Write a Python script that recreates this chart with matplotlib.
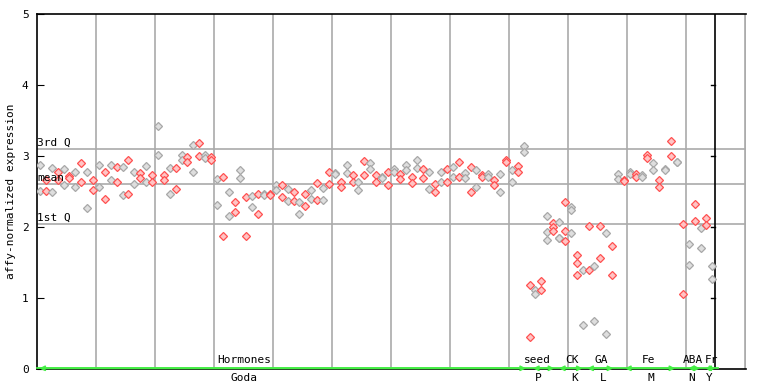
import numpy as np
import matplotlib
matplotlib.use("Agg")
import matplotlib.pyplot as plt

nan = np.nan
# replicate values per sample column
rep_a = [2.87, 2.51, 2.83, 2.77, 2.81, 2.72, 2.77, 2.90, 2.78, 2.66,
         2.88, 2.78, 2.88, 2.84, 2.84, 2.95, 2.78, 2.76, 2.86, 2.73,
         3.42, 2.73, 2.83, 2.83, 3.02, 2.98, 3.16, 3.18, 3.01, 2.98,
         2.67, 2.70, 2.49, 2.35, 2.80, 2.42, 2.43, 2.46, 2.47, 2.46,
         2.59, 2.59, 2.53, 2.49, 2.35, 2.47, 2.52, 2.62, 2.55, 2.77,
         2.76, 2.64, 2.88, 2.73, 2.64, 2.93, 2.90, 2.73, 2.71, 2.77,
         2.81, 2.74, 2.87, 2.71, 2.95, 2.81, 2.77, 2.60, 2.77, 2.81,
         2.84, 2.91, 2.76, 2.85, 2.80, 2.73, 2.74, 2.66, 2.74, 2.94,
         2.80, 2.86, 3.14, 1.19, 1.11, 1.24, 2.16, 2.05, 2.07, 2.35,
         2.28, 1.60, 1.39, 2.01, 1.45, 2.01, 1.91, 1.73, 2.74, 2.66,
         2.77, 2.74, 2.73, 3.01, 2.90, 2.66, 2.81, 3.21, 2.92, 2.04,
         1.76, 2.32, 1.98, 2.12, 1.45]
rep_b = [2.51, 2.66, 2.50, 2.66, 2.59, 2.69, 2.56, 2.64, 2.27, 2.52,
         2.56, 2.40, 2.66, 2.63, 2.45, 2.46, 2.60, 2.69, 2.63, 2.64,
         3.02, 2.66, 2.47, 2.53, 2.94, 2.91, 2.78, 3.00, 2.97, 2.95,
         2.31, 1.87, 2.16, 2.21, 2.69, 1.87, 2.28, 2.18, 2.45, 2.45,
         2.52, 2.42, 2.36, 2.36, 2.19, 2.29, 2.40, 2.38, 2.38, 2.60,
         2.75, 2.56, 2.76, 2.63, 2.52, 2.73, 2.81, 2.64, 2.69, 2.59,
         2.77, 2.67, 2.80, 2.62, 2.83, 2.69, 2.53, 2.50, 2.64, 2.64,
         2.71, 2.70, 2.69, 2.50, 2.56, 2.71, 2.70, 2.59, 2.49, 2.91,
         2.63, 2.78, 3.05, 0.45, 1.05, 1.11, 1.93, 2.00, 1.84, 1.94,
         2.24, 1.50, 0.62, 1.39, 0.67, 1.57, 0.50, 1.33, 2.67, 2.65,
         2.74, 2.70, 2.71, 2.97, 2.80, 2.57, 2.80, 3.00, 2.91, 1.05,
         1.47, 2.08, 1.71, 2.03, 1.27]
rep_c = [nan] * 86 + [1.81, 1.94, 1.84, 1.80, 1.91, 1.32] + [nan] * 23

top_labels = ["Hormones", "seed", "CK", "GA", "Fe", "ABA", "Fr"]
bottom_labels = ["Goda", "P", "K", "L", "M", "N", "Y"]
group_spans = [(-0.1, 82.4), (83.6, 87.2), (88.0, 92.0), (92.8, 97.2),
               (99.2, 107.7), (109.9, 111.9), (112.8, 114.5)]
top_pos = [34.6, 84.3, 90.2, 95.1, 103.1, 110.7, 113.8]
bottom_pos = [34.6, 84.4, 90.6, 95.5, 103.6, 110.4, 113.4]
q1, mean_v, q3 = 2.04, 2.60, 3.10

mono = "DejaVu Sans Mono"
plt.rcParams["font.family"] = mono

fig = plt.figure(figsize=(7.68, 3.84), dpi=100)
ax = fig.add_axes([37/768, 15/384, 709/768, 355/384])
ax.set_xlim(-0.5, 119.7)
ax.set_ylim(0, 5)

grid_c = "#aaaaaa"
for gx in np.arange(9.5, 119.6, 10):
    ax.axvline(gx, color=grid_c, lw=1.2, zorder=1)
ax.axvline(119.65, color=grid_c, lw=1.2, zorder=1)
for hv in (q1, mean_v, q3):
    ax.axhline(hv, color=grid_c, lw=1.2, zorder=1)

ax.text(0.0, q3 + 0.02, "3rd Q", transform=ax.get_yaxis_transform(),
        fontsize=8, va="bottom", ha="left", zorder=4)
ax.text(0.0, mean_v + 0.02, "mean", transform=ax.get_yaxis_transform(),
        fontsize=8, va="bottom", ha="left", zorder=4)
ax.text(0.0, q1 + 0.02, "1st Q", transform=ax.get_yaxis_transform(),
        fontsize=8, va="bottom", ha="left", zorder=4)

n = len(rep_a)
xs = np.arange(n)
red_f, red_e = "#ffc4c4", "#ff5050"
gray_f, gray_e = "#dedede", "#a8a8a8"
for i in range(n):
    fc, ec = (gray_f, gray_e) if i % 2 == 0 else (red_f, red_e)
    for rep in (rep_a, rep_b, rep_c):
        v = rep[i]
        if not np.isnan(v):
            ax.plot(xs[i], v, marker="D", ms=3.8, mfc=fc, mec=ec, mew=0.9,
                    ls="none", zorder=3)

# right black axis line with ticks
ax.axvline(114.5, color="black", lw=1.2, zorder=2)
for t in (1, 2, 3, 4):
    ax.plot([113.7, 114.5], [t, t], color="black", lw=1, zorder=2)

# green group arrows
green = "#44ee44"
ax.plot([-0.5, 115.0], [0.01, 0.01], color=green, lw=1.3, zorder=5, clip_on=False)
for (s, e) in group_spans:
    ax.annotate("", xy=(s, 0.01), xytext=(e, 0.01),
                arrowprops=dict(arrowstyle="<->", color=green, lw=1.3,
                                mutation_scale=7, shrinkA=0, shrinkB=0),
                zorder=6, annotation_clip=False)
for lab, p in zip(top_labels, top_pos):
    ax.text(p, 0.05, lab, fontsize=8, ha="center", va="bottom", zorder=6)
for lab, p in zip(bottom_labels, bottom_pos):
    ax.text(p, -0.05, lab, fontsize=8, ha="center", va="top", clip_on=False)

ax.set_xticks([])
ax.set_yticks([0, 1, 2, 3, 4, 5])
ax.tick_params(axis="y", direction="in", length=5, labelsize=8, pad=6)
ax.set_ylabel("affy-normalized expression", fontsize=8, labelpad=4)
ax.spines["right"].set_visible(False)
for s in ("left", "top", "bottom"):
    ax.spines[s].set_linewidth(1.2)

fig.savefig("out.png", dpi=100)
